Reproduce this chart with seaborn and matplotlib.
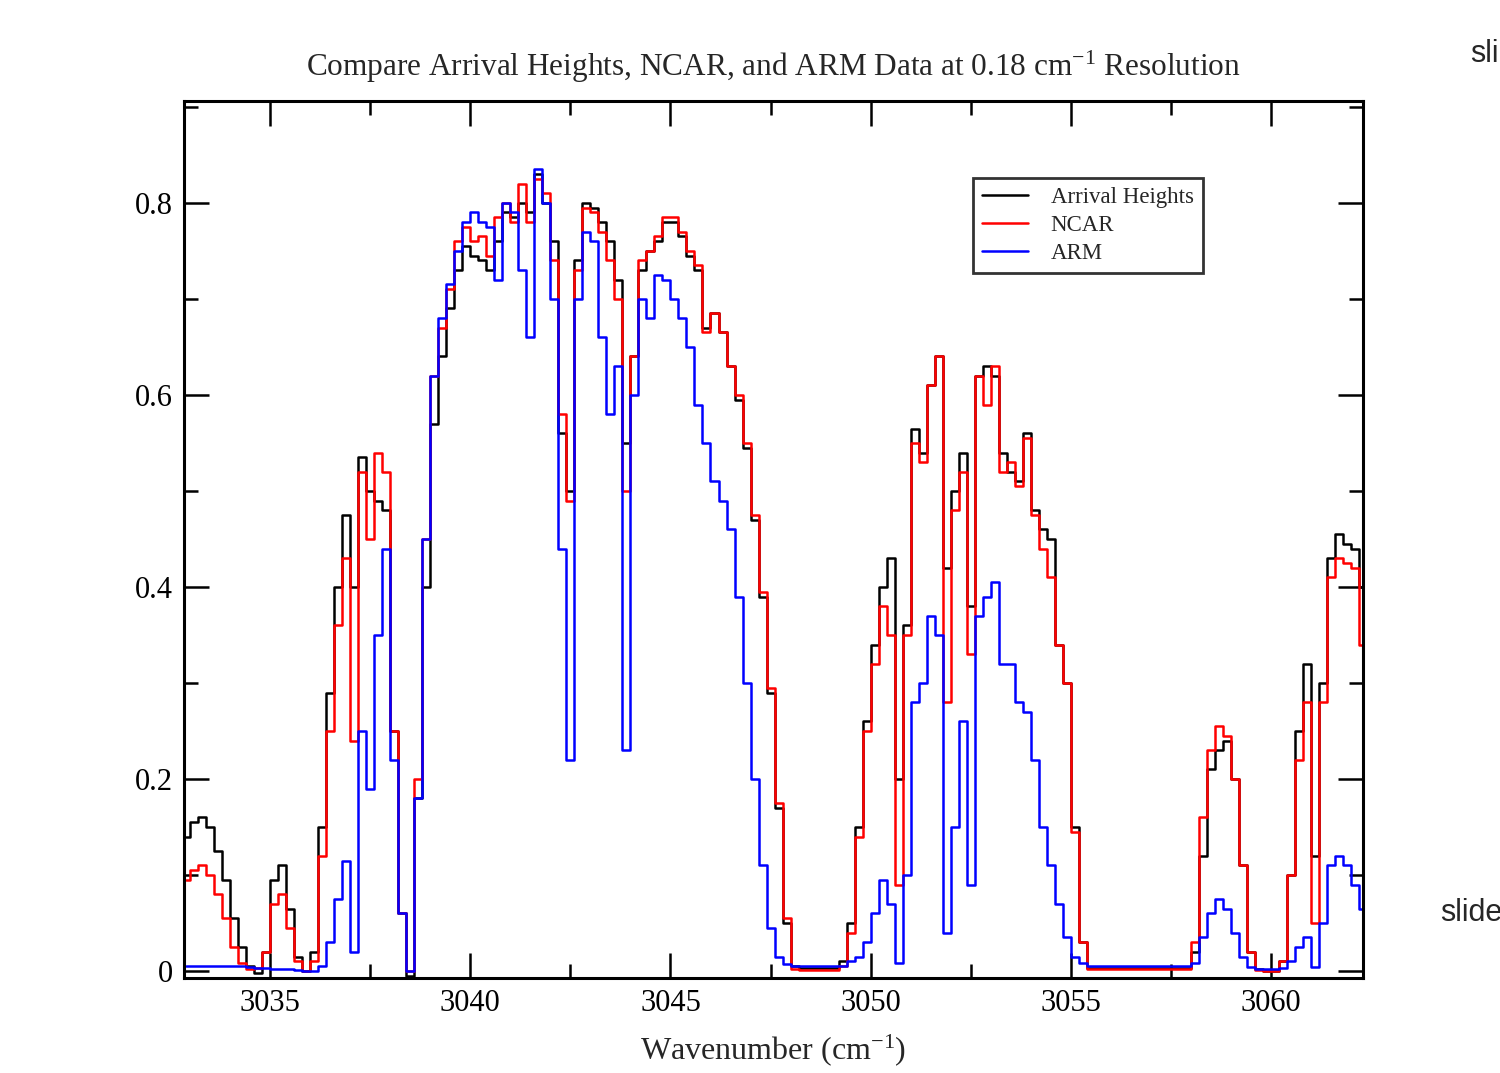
import numpy as np
import pandas as pd
import matplotlib
matplotlib.use("Agg")
import matplotlib.pyplot as plt
from matplotlib.ticker import MultipleLocator, FormatStrFormatter, FuncFormatter
import seaborn as sns

# Wavenumber grid (cm-1), sampled every 0.2
wavenumber = np.round(np.arange(3032.9, 3062.31, 0.2), 1)

# Arrival Heights (black)
arrival = [
    0.140, 0.155, 0.160, 0.150, 0.125, 0.095, 0.055, 0.025, 0.005, -0.002,
    0.020, 0.095, 0.110, 0.065, 0.015, 0.000, 0.020, 0.150, 0.290, 0.400,
    0.475, 0.400, 0.535, 0.500, 0.490, 0.480, 0.250, 0.060, -0.005, 0.180,
    0.400, 0.570, 0.640, 0.690, 0.730, 0.755, 0.745, 0.740, 0.730, 0.760,
    0.790, 0.785, 0.800, 0.790, 0.830, 0.800, 0.760, 0.560, 0.500, 0.740,
    0.800, 0.795, 0.780, 0.760, 0.720, 0.550, 0.640, 0.730, 0.750, 0.760,
    0.780, 0.780, 0.765, 0.745, 0.730, 0.670, 0.685, 0.665, 0.630, 0.595,
    0.545, 0.470, 0.390, 0.290, 0.170, 0.050, 0.005, 0.003, 0.003, 0.003,
    0.003, 0.003, 0.010, 0.050, 0.150, 0.260, 0.340, 0.400, 0.430, 0.200,
    0.360, 0.565, 0.540, 0.610, 0.640, 0.420, 0.500, 0.540, 0.380, 0.620,
    0.630, 0.620, 0.540, 0.520, 0.510, 0.560, 0.480, 0.460, 0.450, 0.340,
    0.300, 0.150, 0.030, 0.003, 0.003, 0.003, 0.003, 0.003, 0.003, 0.003,
    0.003, 0.003, 0.003, 0.003, 0.003, 0.003, 0.020, 0.120, 0.210, 0.230,
    0.240, 0.200, 0.110, 0.020, 0.002, 0.000, 0.000, 0.010, 0.100, 0.250,
    0.320, 0.120, 0.300, 0.430, 0.455, 0.445, 0.440, 0.400,
]

# NCAR (red)
ncar = [
    0.095, 0.105, 0.110, 0.100, 0.080, 0.055, 0.025, 0.008, 0.002, 0.003,
    0.020, 0.070, 0.080, 0.045, 0.010, 0.000, 0.010, 0.120, 0.250, 0.360,
    0.430, 0.240, 0.520, 0.450, 0.540, 0.520, 0.250, 0.060, 0.000, 0.200,
    0.450, 0.620, 0.670, 0.710, 0.760, 0.775, 0.760, 0.765, 0.745, 0.785,
    0.800, 0.780, 0.820, 0.780, 0.825, 0.810, 0.740, 0.580, 0.490, 0.730,
    0.795, 0.790, 0.770, 0.740, 0.700, 0.500, 0.640, 0.740, 0.750, 0.765,
    0.785, 0.785, 0.770, 0.750, 0.735, 0.665, 0.685, 0.665, 0.630, 0.600,
    0.550, 0.475, 0.395, 0.295, 0.175, 0.055, 0.002, 0.001, 0.001, 0.001,
    0.001, 0.001, 0.005, 0.040, 0.140, 0.250, 0.320, 0.380, 0.350, 0.090,
    0.350, 0.550, 0.530, 0.610, 0.640, 0.280, 0.480, 0.520, 0.330, 0.620,
    0.590, 0.630, 0.520, 0.530, 0.505, 0.555, 0.475, 0.440, 0.410, 0.340,
    0.300, 0.145, 0.030, 0.002, 0.002, 0.002, 0.002, 0.002, 0.002, 0.002,
    0.002, 0.002, 0.002, 0.002, 0.002, 0.002, 0.030, 0.160, 0.230, 0.255,
    0.245, 0.200, 0.110, 0.020, 0.001, 0.000, 0.000, 0.010, 0.100, 0.220,
    0.280, 0.050, 0.280, 0.410, 0.430, 0.425, 0.420, 0.340,
]

# ARM (blue)
arm = [
    0.005, 0.005, 0.005, 0.005, 0.005, 0.005, 0.005, 0.005, 0.004, 0.003,
    0.003, 0.002, 0.002, 0.002, 0.001, 0.000, 0.000, 0.005, 0.030, 0.075,
    0.115, 0.020, 0.250, 0.190, 0.350, 0.440, 0.220, 0.060, 0.000, 0.180,
    0.450, 0.620, 0.680, 0.715, 0.750, 0.780, 0.790, 0.780, 0.775, 0.720,
    0.800, 0.790, 0.730, 0.660, 0.835, 0.800, 0.700, 0.440, 0.220, 0.700,
    0.770, 0.760, 0.660, 0.580, 0.630, 0.230, 0.600, 0.700, 0.680, 0.725,
    0.720, 0.700, 0.680, 0.650, 0.590, 0.550, 0.510, 0.490, 0.460, 0.390,
    0.300, 0.200, 0.110, 0.045, 0.015, 0.007, 0.005, 0.005, 0.005, 0.005,
    0.005, 0.005, 0.005, 0.010, 0.015, 0.030, 0.060, 0.095, 0.070, 0.008,
    0.100, 0.280, 0.300, 0.370, 0.350, 0.040, 0.150, 0.260, 0.090, 0.370,
    0.390, 0.405, 0.320, 0.320, 0.280, 0.270, 0.220, 0.150, 0.110, 0.070,
    0.035, 0.015, 0.008, 0.005, 0.005, 0.005, 0.005, 0.005, 0.005, 0.005,
    0.005, 0.005, 0.005, 0.005, 0.005, 0.005, 0.008, 0.035, 0.060, 0.075,
    0.065, 0.040, 0.015, 0.004, 0.002, 0.002, 0.002, 0.003, 0.010, 0.025,
    0.035, 0.004, 0.050, 0.110, 0.120, 0.110, 0.090, 0.065,
]

series_names = ["Arrival Heights", "NCAR", "ARM"]
series_colors = ["#000000", "#ff0000", "#0000ff"]

df = pd.DataFrame({
    "Wavenumber": np.tile(wavenumber, 3),
    "Value": arrival + ncar + arm,
    "Source": np.repeat(series_names, len(wavenumber)),
})

sns.set_style("ticks")
plt.rcParams["font.family"] = ["Liberation Serif", "DejaVu Serif"]
plt.rcParams["mathtext.fontset"] = "custom"
plt.rcParams["mathtext.rm"] = "Liberation Serif"
plt.rcParams["mathtext.it"] = "Liberation Serif:italic"

fig = plt.figure(figsize=(15, 10.73), dpi=100)
ax = fig.add_axes([0.1227, 0.0885, 0.786, 0.8173])

sns.lineplot(
    data=df, x="Wavenumber", y="Value", hue="Source",
    hue_order=series_names, palette=series_colors,
    drawstyle="steps-mid", linewidth=1.8, ax=ax, estimator=None,
)

ax.set_xlim(3032.85, 3062.3)
ax.set_ylim(-0.0073, 0.906)

ax.xaxis.set_major_locator(MultipleLocator(5))
ax.xaxis.set_minor_locator(MultipleLocator(2.5))
ax.yaxis.set_major_locator(MultipleLocator(0.2))
ax.yaxis.set_minor_locator(MultipleLocator(0.1))
ax.yaxis.set_major_formatter(FuncFormatter(lambda v, p: "%g" % round(v, 2)))
ax.xaxis.set_major_formatter(FormatStrFormatter("%d"))

ax.tick_params(which="both", direction="in", top=True, right=True,
               width=1.8, colors="black", labelsize=22, pad=8)
ax.tick_params(which="major", length=18)
ax.tick_params(which="minor", length=10)
for sp in ax.spines.values():
    sp.set_visible(True)
    sp.set_linewidth(2.2)
    sp.set_color("black")

ax.set_xlabel("Wavenumber (cm$^{-1}$)", fontsize=23, labelpad=10)
ax.set_ylabel("")
ax.set_title("Compare Arrival Heights, NCAR, and ARM Data at 0.18 cm$^{-1}$ Resolution",
             fontsize=22.5, pad=18)

leg = ax.legend(
    loc="upper left", bbox_to_anchor=(0.669, 0.912), borderaxespad=0,
    fontsize=16.5, frameon=True, fancybox=False, edgecolor="black",
    handlelength=2.0, handletextpad=1.0, labelspacing=0.3,
    borderpad=0.4, title=None,
)
leg.get_frame().set_linewidth(2.0)
for line in leg.get_lines():
    line.set_linewidth(1.8)

# cut-off slide text at the right edge
fig.text(0.98, 0.95, "sli", fontsize=22, family="Liberation Sans", va="center", ha="left")
fig.text(0.96, 0.149, "slide", fontsize=22, family="Liberation Sans", va="center", ha="left")

fig.savefig("out.png", dpi=100, facecolor="white")
